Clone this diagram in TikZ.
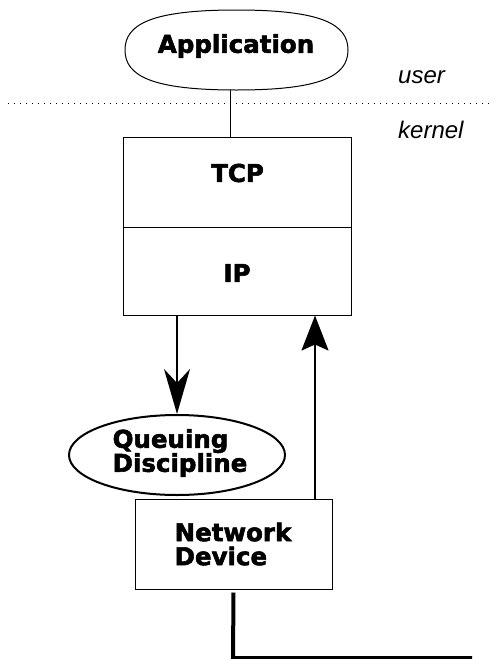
\documentclass[tikz,border=0pt]{standalone}
\usepackage{fontspec}
\usetikzlibrary{arrows.meta,shapes.geometric}
\newfontfamily\heavyfont{DejaVu Sans}[BoldFeatures={FakeBold=2.2}]
\newfontfamily\slantfont{Liberation Sans}
\begin{document}
\begin{tikzpicture}[x=1pt,y=-1pt,
  thinbox/.style={draw,line width=1pt,rectangle,inner sep=0pt},
  heavytext/.style={font=\heavyfont\bfseries\fontsize{24.5}{24}\selectfont,inner sep=0pt},
  layertext/.style={font=\slantfont\itshape\fontsize{24}{24}\selectfont,inner sep=0pt,anchor=base west},
  flow/.style={line width=2pt}]
\useasboundingbox (0,0) rectangle (494,659);

% user/kernel boundary
\coordinate (sepL) at (8,103);
\coordinate (sepR) at (494,103);
\draw[line width=1pt,dash pattern=on 1pt off 5pt] (sepL) -- (sepR);
\node[layertext] (user) at (398,83) {user};
\node[layertext] (kernel) at (398,138) {kernel};

% application (rounded oval outline around the node)
\node[minimum width=223pt,minimum height=80pt,inner sep=0pt] (app) at (236.5,50) {};
\draw[line width=1pt] (236.5,10) .. controls (152,10) and (125,24) .. (125,50)
  .. controls (125,76) and (152,90) .. (236.5,90)
  .. controls (321,90) and (348,76) .. (348,50)
  .. controls (348,24) and (321,10) .. (236.5,10);
\node[heavytext] (apptext) at (236,46) {Application};

% protocol stack
\node[thinbox,minimum width=228pt,minimum height=90pt] (tcp) at (237,182) {};
\node[thinbox,minimum width=228pt,minimum height=88pt] (ip) at (237,271) {};
\node[heavytext] (tcptext) at (237.5,173) {TCP};
\node[heavytext] (iptext) at (237,273) {IP};

\draw[line width=1.5pt] ([xshift=-6pt]app.south) -- ([xshift=-6pt]app.south |- tcp.north);

% queuing discipline
\node[draw,ellipse,line width=2pt,minimum width=216pt,minimum height=80pt,inner sep=0pt] (qd) at (177,455) {};
\node[heavytext,align=left] (qdtext) at (180,453) {Queuing\\Discipline};

% network device
\node[thinbox,minimum width=197pt,minimum height=90pt] (dev) at (233.5,544) {};
\node[heavytext,align=left] (devtext) at (233,544) {Network\\Device};

% packet flow
\draw[flow,-{Stealth[length=45pt,width=26pt,inset=14pt]}] (ip.south -| qd.north) -- (qd.north);
\coordinate (upx) at (315,0);
\draw[flow,-{Stealth[length=35pt,width=27pt,inset=6pt]}] (dev.north -| upx) -- (ip.south -| upx);

% wire
\coordinate (wire) at (472,658);
\draw[line width=4pt] (dev.south) ++(0,3) -- (233,658) -- (wire);
\end{tikzpicture}
\end{document}
